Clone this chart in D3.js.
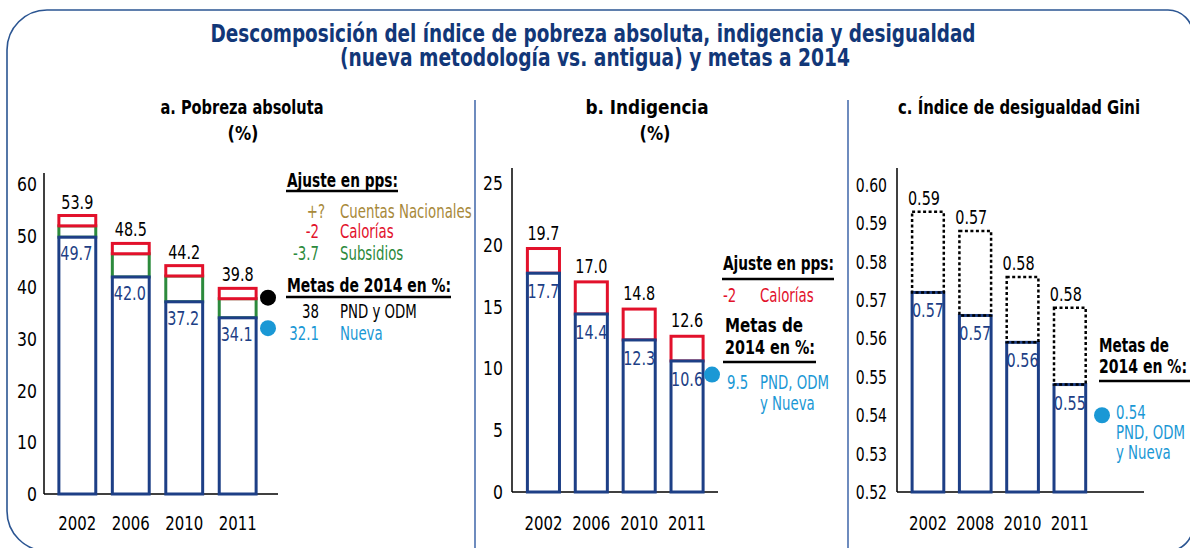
<!DOCTYPE html>
<html>
<head>
<meta charset="utf-8">
<script src="https://cdn.jsdelivr.net/npm/d3@7"></script>
<style>
  body { margin: 0; background: #fff; }
  svg text { font-family: "DejaVu Sans Condensed", "DejaVu Sans", sans-serif; }
  .bold { font-weight: bold; }
</style>
</head>
<body>
<div id="chart"></div>
<script>
// panel a: pobreza absoluta
const yearsA = ["2002", "2006", "2010", "2011"];
const pobrezaAntigua = [53.9, 48.5, 44.2, 39.8];
const pobrezaNueva = [49.7, 42.0, 37.2, 34.1];
const ajusteCaloriasA = 2;
const metasA = [38, 32.1];
const ticksA = [0, 10, 20, 30, 40, 50, 60];

// panel b: indigencia
const yearsB = ["2002", "2006", "2010", "2011"];
const indigAntigua = [19.7, 17.0, 14.8, 12.6];
const indigNueva = [17.7, 14.4, 12.3, 10.6];
const metaB = 9.5;
const ticksB = [0, 5, 10, 15, 20, 25];

// panel c: gini
const yearsC = ["2002", "2008", "2010", "2011"];
const giniAntigua = [0.593, 0.588, 0.576, 0.568];
const giniNueva = [0.572, 0.566, 0.559, 0.548];
const giniAntiguaLabels = ["0.59", "0.57", "0.58", "0.58"];
const metaC = 0.54;
const ticksC = [0.52, 0.53, 0.54, 0.55, 0.56, 0.57, 0.58, 0.59, 0.60];

const navy = "#1d3f86", red = "#e2112b", green = "#2c8a3c", gold = "#a8893a", sky = "#1a98d5", titleBlue = "#123778";
const SX = 0.8; // horizontal squeeze for the narrow look of the original font

const W = 1190, H = 548;
const svg = d3.select("#chart").append("svg")
    .attr("width", W)
    .attr("height", H);

// frame with rounded corners
let fr = d3.path();
fr.moveTo(47, 10);
fr.lineTo(1168, 10);
fr.arcTo(1193, 10, 1193, 35, 25);
fr.lineTo(1193, 526);
fr.arcTo(1193, 551, 1168, 551, 25);
fr.lineTo(47, 551);
fr.arcTo(7, 551, 7, 511, 40);
fr.lineTo(7, 50);
fr.arcTo(7, 10, 47, 10, 40);
svg.append("path").attr("d", fr.toString())
    .attr("fill", "none").attr("stroke", "#2b5592").attr("stroke-width", 1.6);

// dividers
[475, 848].forEach(function (x) {
    svg.append("line").attr("x1", x).attr("x2", x).attr("y1", 100).attr("y2", 551)
        .attr("stroke", "#4a6fae").attr("stroke-width", 1.6);
});

// title
svg.append("text").attr("class", "bold").attr("x", 593).attr("y", 42)
    .attr("text-anchor", "middle").attr("fill", titleBlue).attr("font-size", 24)
    .attr("textLength", 765).attr("lengthAdjust", "spacingAndGlyphs")
    .text("Descomposición del índice de pobreza absoluta, indigencia y desigualdad");
svg.append("text").attr("class", "bold").attr("x", 595).attr("y", 66)
    .attr("text-anchor", "middle").attr("fill", titleBlue).attr("font-size", 24)
    .attr("textLength", 510).attr("lengthAdjust", "spacingAndGlyphs")
    .text("(nueva metodología vs. antigua) y metas a 2014");

function boldText(x, y, txt, len, anchor) {
    let t = svg.append("text").attr("class", "bold").attr("x", x).attr("y", y)
        .attr("font-size", 20).attr("fill", "#000")
        .attr("text-anchor", anchor || "start").text(txt);
    if (len) t.attr("textLength", len).attr("lengthAdjust", "spacingAndGlyphs");
    return t;
}
function plainText(x, y, txt, color, anchor, size, sx) {
    return svg.append("text")
        .attr("transform", "translate(" + x + "," + y + ") scale(" + (sx || SX) + ",1)")
        .attr("font-size", size || 20).attr("fill", color)
        .attr("text-anchor", anchor || "start").text(txt);
}
function rule(x1, x2, y) {
    svg.append("line").attr("x1", x1).attr("x2", x2).attr("y1", y).attr("y2", y)
        .attr("stroke", "#000").attr("stroke-width", 2.5);
}

// panel titles
boldText(242, 114, "a. Pobreza absoluta", 163, "middle");
boldText(243, 140, "(%)", 31, "middle");
boldText(647, 114, "b. Indigencia", 123, "middle");
boldText(655, 140, "(%)", 31, "middle");
boldText(1019, 114, "c. Índice de desigualdad Gini", 242, "middle");

// generic panel
function panel(cfg) {
    let x = d3.scaleBand().domain(cfg.years).range(cfg.xr).paddingInner(cfg.pi).paddingOuter(cfg.pi / 2);
    let y = d3.scaleLinear().domain(cfg.domain).range(cfg.yr);
    let g = svg.append("g");

    // y axis
    let ax = g.append("g").attr("transform", "translate(" + cfg.axisX + ",0)")
        .call(d3.axisLeft(y).tickValues(cfg.ticks).tickSize(0).tickPadding(0).tickFormat(cfg.fmt));
    ax.select(".domain").remove();
    ax.selectAll("text").attr("font-size", 20).attr("fill", "#000")
        .attr("font-family", "DejaVu Sans Condensed, DejaVu Sans, sans-serif")
        .attr("x", null)
        .attr("transform", "translate(" + (-cfg.pad) + ",0) scale(" + cfg.sx + ",1)");
    g.append("line").attr("x1", cfg.axisX).attr("x2", cfg.axisX)
        .attr("y1", cfg.yr[0]).attr("y2", cfg.axisTop).attr("stroke", "#000").attr("stroke-width", 1.5);
    g.append("line").attr("x1", cfg.axisX).attr("x2", cfg.baseEnd)
        .attr("y1", cfg.yr[0]).attr("y2", cfg.yr[0]).attr("stroke", "#000").attr("stroke-width", 1.5);

    // x labels
    cfg.years.forEach(function (d) {
        plainText(x(d) + x.bandwidth() / 2, 530, d, "#000", "middle", 20, 0.83);
    });

    return {x: x, y: y, g: g};
}

// ---------- panel a ----------
let pa = panel({years: yearsA, xr: [50.6, 264.4], pi: 0.31, domain: [0, 60], yr: [494, 184],
    axisX: 44, axisTop: 173, baseEnd: 278, ticks: ticksA, pad: 7, sx: 0.87, fmt: d3.format("d")});
yearsA.forEach(function (yr, i) {
    let bx = pa.x(yr), bw = pa.x.bandwidth();
    let yN = pa.y(pobrezaNueva[i]), yC = pa.y(pobrezaAntigua[i] - ajusteCaloriasA), yT = pa.y(pobrezaAntigua[i]);
    pa.g.append("rect").attr("x", bx).attr("y", yC).attr("width", bw).attr("height", yN - yC)
        .attr("fill", "#fff").attr("stroke", green).attr("stroke-width", 3);
    pa.g.append("rect").attr("x", bx).attr("y", yT).attr("width", bw).attr("height", yC - yT)
        .attr("fill", "#fff").attr("stroke", red).attr("stroke-width", 3);
    pa.g.append("rect").attr("x", bx).attr("y", yN).attr("width", bw).attr("height", pa.y(0) - yN)
        .attr("fill", "#fff").attr("stroke", navy).attr("stroke-width", 3);
    plainText(bx + bw / 2, yT - 7, pobrezaAntigua[i].toFixed(1), "#000", "middle");
    plainText(bx + bw / 2 - 1, yN + 23, pobrezaNueva[i].toFixed(1), navy, "middle");
});
// metas a
pa.g.append("circle").attr("cx", 268).attr("cy", pa.y(metasA[0])).attr("r", 8).attr("fill", "#000");
pa.g.append("circle").attr("cx", 268).attr("cy", pa.y(metasA[1])).attr("r", 8).attr("fill", sky);

boldText(287, 187, "Ajuste en pps:", 111);
rule(286, 398, 191);
plainText(325, 218, "+?", gold, "end", 19, 0.78);
plainText(340, 218, "Cuentas Nacionales", gold, "start", 19, 0.78);
plainText(319, 238, "-2", red, "end", 19, 0.78);
plainText(340, 238, "Calorías", red, "start", 19, 0.78);
plainText(319, 260, "-3.7", green, "end", 19, 0.78);
plainText(340, 260, "Subsidios", green, "start", 19, 0.78);
boldText(287, 292, "Metas de 2014 en %:", 164);
rule(286, 451, 297);
plainText(319, 318, metasA[0], "#000", "end", 19, 0.78);
plainText(340, 318, "PND y ODM", "#000", "start", 19, 0.78);
plainText(319, 340, metasA[1].toFixed(1), sky, "end", 19, 0.78);
plainText(340, 340, "Nueva", sky, "start", 19, 0.78);

// ---------- panel b ----------
let pb = panel({years: yearsB, xr: [519.5, 711], pi: 0.33, domain: [0, 25], yr: [492, 183],
    axisX: 512, axisTop: 168, baseEnd: 718, ticks: ticksB, pad: 9, sx: 0.87, fmt: d3.format("d")});
yearsB.forEach(function (yr, i) {
    let bx = pb.x(yr), bw = pb.x.bandwidth();
    let yN = pb.y(indigNueva[i]), yT = pb.y(indigAntigua[i]);
    pb.g.append("rect").attr("x", bx).attr("y", yT).attr("width", bw).attr("height", yN - yT)
        .attr("fill", "#fff").attr("stroke", red).attr("stroke-width", 3);
    pb.g.append("rect").attr("x", bx).attr("y", yN).attr("width", bw).attr("height", pb.y(0) - yN)
        .attr("fill", "#fff").attr("stroke", navy).attr("stroke-width", 3);
    plainText(bx + bw / 2, yT - 9, indigAntigua[i].toFixed(1), "#000", "middle");
    plainText(bx + bw / 2, yN + 25, indigNueva[i].toFixed(1), navy, "middle");
});
pb.g.append("circle").attr("cx", 712).attr("cy", pb.y(metaB)).attr("r", 8).attr("fill", sky);
boldText(723, 270, "Ajuste en pps:", 111);
rule(722, 834, 279);
plainText(723, 302, "-2", red, "start", 19, 0.78);
plainText(760, 302, "Calorías", red, "start", 19, 0.78);
boldText(725, 332, "Metas de", 78);
boldText(725, 354, "2014 en %:", 90);
rule(723, 816, 362);
plainText(727, 389, metaB.toFixed(1), sky, "start", 19, 0.78);
plainText(760, 389, "PND, ODM", sky, "start", 19, 0.78);
plainText(760, 410, "y Nueva", sky, "start", 19, 0.78);

// ---------- panel c ----------
let pc = panel({years: yearsC, xr: [904.3, 1093.5], pi: 0.33, domain: [0.52, 0.60], yr: [492, 185],
    axisX: 897, axisTop: 168, baseEnd: 1144, ticks: ticksC, pad: 10, sx: 0.78, fmt: d3.format(".2f")});
yearsC.forEach(function (yr, i) {
    let bx = pc.x(yr), bw = pc.x.bandwidth();
    let yN = pc.y(giniNueva[i]), yT = pc.y(giniAntigua[i]);
    pc.g.append("rect").attr("x", bx).attr("y", yN).attr("width", bw).attr("height", pc.y(0.52) - yN)
        .attr("fill", "#fff").attr("stroke", navy).attr("stroke-width", 3);
    pc.g.append("rect").attr("x", bx).attr("y", yT).attr("width", bw).attr("height", yN - yT)
        .attr("fill", "none").attr("stroke", "#000").attr("stroke-width", 2.5)
        .attr("stroke-dasharray", "3,2.5");
    plainText(bx + bw / 2 - 4, yT - 7, giniAntiguaLabels[i], "#000", "middle");
    plainText(bx + bw / 2, yN + 25, d3.format(".2f")(giniNueva[i]), navy, "middle");
});
pc.g.append("circle").attr("cx", 1102).attr("cy", pc.y(metaC)).attr("r", 8).attr("fill", sky);
boldText(1099, 352, "Metas de", 70);
boldText(1099, 373, "2014 en %:", 88);
rule(1099, 1193, 381);
plainText(1116, 419, metaC.toFixed(2), sky, "start", 19, 0.78);
plainText(1116, 439, "PND, ODM", sky, "start", 19, 0.78);
plainText(1116, 459, "y Nueva", sky, "start", 19, 0.78);
</script>
</body>
</html>
